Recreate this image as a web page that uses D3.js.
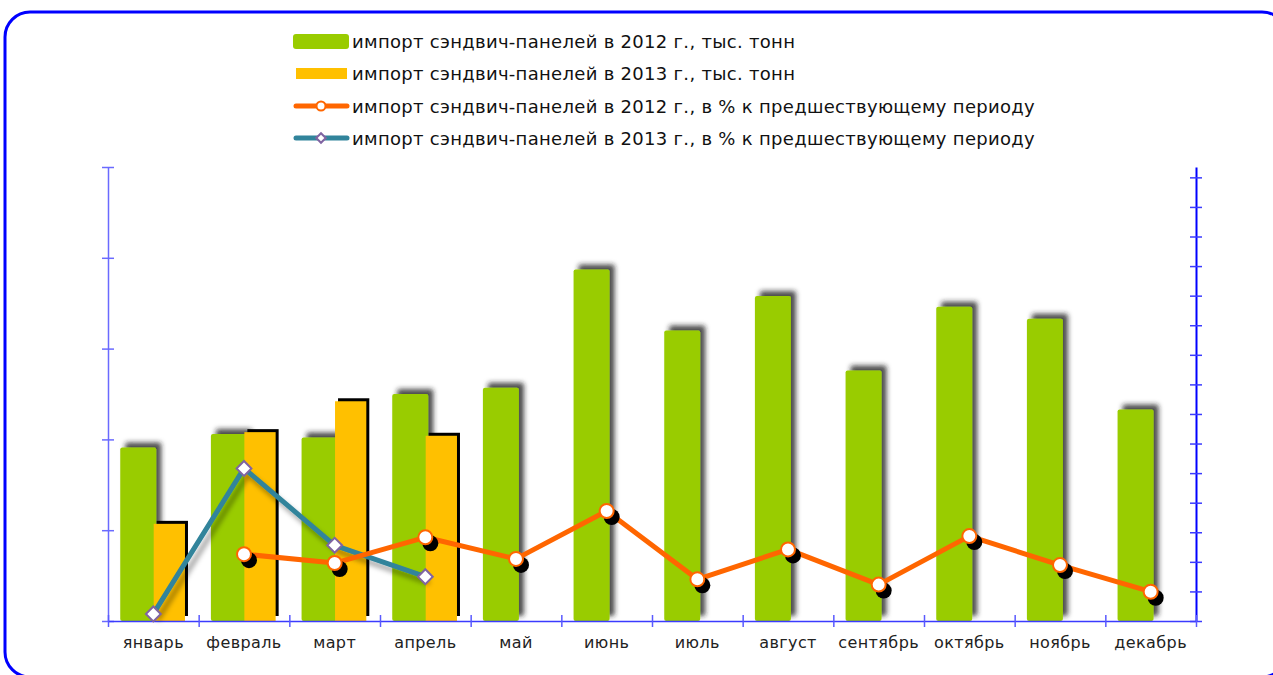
<!DOCTYPE html>
<html>
<head>
<meta charset="utf-8">
<script src="https://cdn.jsdelivr.net/npm/d3@7"></script>
<style>
  body { margin: 0; background: #fff; }
  svg { display: block; font-family: "DejaVu Sans", Verdana, sans-serif; }
</style>
</head>
<body>
<svg width="1273" height="675"></svg>
<script>
// data
var months = ["январь", "февраль", "март", "апрель", "май", "июнь", "июль", "август", "сентябрь", "октябрь", "ноябрь", "декабрь"];
var import2012 = [19.1, 20.6, 20.2, 25.0, 25.7, 38.7, 32.0, 35.8, 27.6, 34.6, 33.3, 23.3];
var import2013 = [10.7, 20.8, 24.2, 20.4];
var pct2012 = [null, 22.6, 19.6, 28.3, 21.0, 37.2, 14.1, 24.2, 12.3, 28.7, 18.9, 9.9];
var pct2013 = [2.4, 51.6, 25.6, 15.0];
var legendLabels = [
  "импорт сэндвич-панелей в 2012 г., тыс. тонн",
  "импорт сэндвич-панелей в 2013 г., тыс. тонн",
  "импорт сэндвич-панелей в 2012 г., в % к предшествующему периоду",
  "импорт сэндвич-панелей в 2013 г., в % к предшествующему периоду"
];

var svg = d3.select("svg");
var plotLeft = 108, plotRight = 1196, plotTop = 167, plotBottom = 621;

// frame
svg.append("rect")
  .attr("x", 5).attr("y", 12)
  .attr("width", 1282).attr("height", 665)
  .attr("rx", 25)
  .attr("fill", "none").attr("stroke", "#0000ff").attr("stroke-width", 3);

var defs = svg.append("defs");
defs.append("filter").attr("id", "barShadow")
  .attr("x", "-30%").attr("y", "-10%").attr("width", "160%").attr("height", "120%")
  .append("feDropShadow")
  .attr("dx", 5).attr("dy", -5).attr("stdDeviation", 2.5)
  .attr("flood-color", "#222").attr("flood-opacity", 0.8);
defs.append("filter").attr("id", "lineShadow")
  .attr("x", "-20%").attr("y", "-20%").attr("width", "140%").attr("height", "140%")
  .append("feDropShadow")
  .attr("dx", 4).attr("dy", 6).attr("stdDeviation", 2.5)
  .attr("flood-color", "#000").attr("flood-opacity", 0.35);

// scales
var x = d3.scaleBand().domain(months).range([plotLeft, plotRight]);
var xi = d3.scaleLinear().domain([0, months.length]).range([plotLeft, plotRight]);
var yL = d3.scaleLinear().domain([0, 50]).range([plotBottom, plotTop]);
var yR = d3.scaleLinear().domain([0, 153.5]).range([plotBottom, plotTop]);
var bw = x.bandwidth();

// axes
var gL = svg.append("g").attr("transform", "translate(" + plotLeft + ",0)")
  .call(d3.axisLeft(yL).tickValues(d3.range(0, 51, 10)).tickFormat("").tickSizeOuter(0));
gL.select(".domain").attr("stroke", "#6a6aff").attr("stroke-width", 1.5);
gL.selectAll(".tick line").attr("x1", -6).attr("x2", 6).attr("stroke", "#6a6aff").attr("stroke-width", 1.5);

var gR = svg.append("g").attr("transform", "translate(" + plotRight + ",0)")
  .call(d3.axisRight(yR).tickValues(d3.range(0, 151, 10)).tickFormat("").tickSizeOuter(0));
gR.select(".domain").attr("stroke", "#0000ff").attr("stroke-width", 2);
gR.selectAll(".tick line").attr("x1", -6).attr("x2", 6).attr("stroke", "#3b3bff").attr("stroke-width", 1.5);

// green bars
svg.append("g").selectAll("rect")
  .data(import2012)
  .join("rect")
  .attr("x", function(d, i) { return x(months[i]) + bw * 0.135; })
  .attr("y", function(d) { return yL(d); })
  .attr("width", bw * 0.397)
  .attr("height", function(d) { return plotBottom - yL(d); })
  .attr("rx", 2)
  .attr("fill", "#99cc00")
  .attr("filter", "url(#barShadow)");

// yellow bars, hard black shadow
var g13 = svg.append("g");
g13.selectAll("rect.sh")
  .data(import2013)
  .join("rect").attr("class", "sh")
  .attr("x", function(d, i) { return x(months[i]) + bw * 0.504 + 3; })
  .attr("y", function(d) { return yL(d) - 3; })
  .attr("width", bw * 0.345)
  .attr("height", function(d) { return plotBottom - 5 - yL(d) + 3; })
  .attr("fill", "#000");
g13.selectAll("rect.bar")
  .data(import2013)
  .join("rect").attr("class", "bar")
  .attr("x", function(d, i) { return x(months[i]) + bw * 0.504; })
  .attr("y", function(d) { return yL(d); })
  .attr("width", bw * 0.345)
  .attr("height", function(d) { return plotBottom - yL(d); })
  .attr("fill", "#ffc000");

// x axis
var gX = svg.append("g").attr("transform", "translate(0," + plotBottom + ")")
  .call(d3.axisBottom(xi).tickValues(d3.range(0, months.length + 1)).tickFormat("").tickSizeOuter(0));
gX.select(".domain").attr("stroke", "#3b3bff").attr("stroke-width", 1.5);
gX.selectAll(".tick line").attr("y1", -6).attr("y2", 6).attr("stroke", "#5a5aff").attr("stroke-width", 1.5);

var gXL = svg.append("g").attr("transform", "translate(0," + plotBottom + ")")
  .call(d3.axisBottom(x).tickSize(0).tickPadding(16));
gXL.select(".domain").remove();
gXL.selectAll("text").attr("font-size", 16).attr("fill", "#222")
  .attr("letter-spacing", 0.4)
  .style("font-family", "'DejaVu Sans', Verdana, sans-serif");

var cx = function(i) { return x(months[i]) + bw / 2; };

// 2013 % line
var line13 = d3.line().x(function(d, i) { return cx(i); }).y(function(d) { return yR(d); });
svg.append("path")
  .datum(pct2013)
  .attr("d", line13)
  .attr("fill", "none").attr("stroke", "#31849b").attr("stroke-width", 5)
  .attr("stroke-linejoin", "round")
  .attr("filter", "url(#lineShadow)");
var diamond = d3.symbol().type(d3.symbolSquare).size(110);
svg.append("g").selectAll("path")
  .data(pct2013)
  .join("path")
  .attr("d", diamond)
  .attr("transform", function(d, i) { return "translate(" + cx(i) + "," + yR(d) + ") rotate(45)"; })
  .attr("fill", "#fff").attr("stroke", "#8064a2").attr("stroke-width", 2);

// 2012 % line
var pts12 = pct2012.map(function(v, i) { return { v: v, i: i }; }).filter(function(d) { return d.v != null; });
var line12 = d3.line().x(function(d) { return cx(d.i); }).y(function(d) { return yR(d.v); });
svg.append("path")
  .datum(pts12)
  .attr("d", line12)
  .attr("fill", "none").attr("stroke", "#ff6600").attr("stroke-width", 5)
  .attr("stroke-linejoin", "round");
svg.append("g").selectAll("circle")
  .data(pts12)
  .join("circle")
  .attr("cx", function(d) { return cx(d.i) + 5; })
  .attr("cy", function(d) { return yR(d.v) + 6; })
  .attr("r", 8)
  .attr("fill", "#000");
svg.append("g").selectAll("circle.pt")
  .data(pts12)
  .join("circle").attr("class", "pt")
  .attr("cx", function(d) { return cx(d.i); })
  .attr("cy", function(d) { return yR(d.v); })
  .attr("r", 7)
  .attr("fill", "#fff").attr("stroke", "#ff6600").attr("stroke-width", 2);

// legend
var lg = svg.append("g");
var rowY = [41.5, 73.5, 106, 138];
lg.append("rect").attr("x", 293).attr("y", 34).attr("width", 56).attr("height", 15).attr("rx", 3).attr("fill", "#99cc00");
lg.append("rect").attr("x", 296).attr("y", 68).attr("width", 51).attr("height", 11).attr("fill", "#ffc000");
lg.append("line").attr("x1", 296).attr("x2", 347).attr("y1", rowY[2]).attr("y2", rowY[2])
  .attr("stroke", "#ff6600").attr("stroke-width", 5).attr("stroke-linecap", "round");
lg.append("circle").attr("cx", 321).attr("cy", rowY[2]).attr("r", 4.5)
  .attr("fill", "#fff").attr("stroke", "#ff6600").attr("stroke-width", 2);
lg.append("line").attr("x1", 296).attr("x2", 347).attr("y1", rowY[3]).attr("y2", rowY[3])
  .attr("stroke", "#31849b").attr("stroke-width", 5).attr("stroke-linecap", "round");
lg.append("path").attr("d", d3.symbol().type(d3.symbolSquare).size(45))
  .attr("transform", "translate(321," + rowY[3] + ") rotate(45)")
  .attr("fill", "#fff").attr("stroke", "#8064a2").attr("stroke-width", 2);
lg.selectAll("text")
  .data(legendLabels)
  .join("text")
  .attr("x", 352)
  .attr("y", function(d, i) { return rowY[i] + 6.5; })
  .attr("font-size", 18)
  .attr("letter-spacing", 0.3)
  .attr("fill", "#111")
  .text(function(d) { return d; });
</script>
</body>
</html>
